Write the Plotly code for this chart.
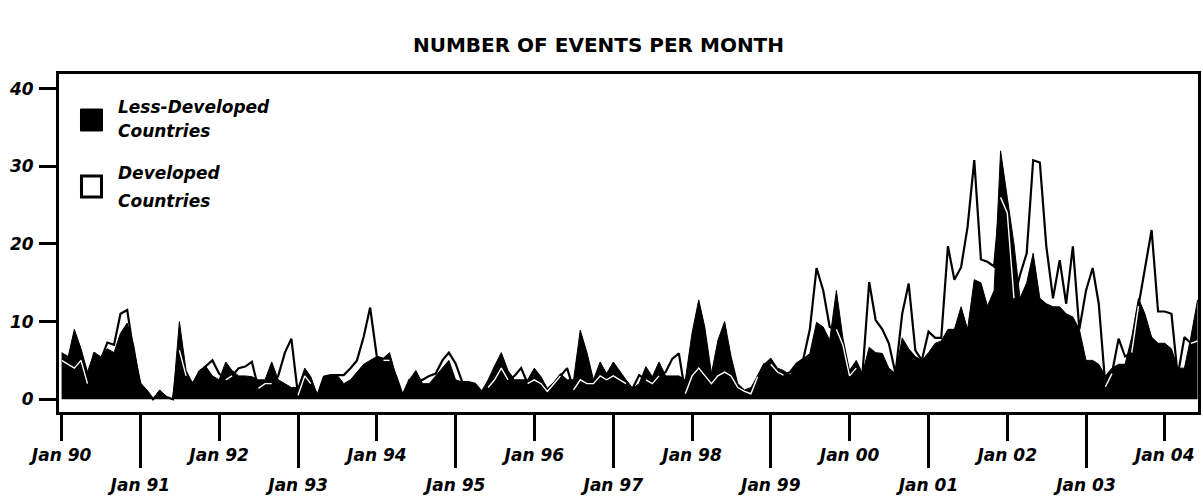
import pandas as pd
import plotly.graph_objects as go

# ---- data (monthly, Jan 1990 .. Jun 2004) ----
start_month = "1990-01-01"
ldc = [
    6, 5.5, 9, 6.5, 3.5, 6, 5.5, 6.5, 6, 8.5, 9.8, 7,
    2, 1.2, 0, 1.2, 0.3, 0, 10, 3.7, 2, 3.7, 4.2, 3,
    2.5, 4.8, 3.7, 3, 3, 2.9, 2.5, 2.5, 4.8, 2.5, 2, 1.5,
    1.5, 4, 2.9, 0.5, 2.9, 3.1, 3.1, 2, 2.5, 3.5, 4.5, 5,
    5.5, 5.3, 6, 2.9, 0.5, 2.5, 3.7, 2, 2, 3, 4, 5,
    2.5, 2.2, 2.2, 2, 1, 2.5, 4.3, 6, 3.7, 2.5, 2.5, 2.5,
    4, 2.9, 1.4, 2.2, 3.3, 2.5, 2.5, 8.9, 6, 2.5, 4.8, 3.3,
    4.8, 3.5, 2.5, 1.4, 2, 4.2, 2.9, 4.8, 3, 3, 3, 2.5,
    8.5, 12.8, 9.3, 3.3, 7.6, 10, 5.5, 2, 1.2, 1.5, 3, 4.5,
    5.3, 4, 3.7, 3.1, 4.6, 5.2, 5.9, 9.9, 9.3, 7.6, 14, 7.9,
    3.7, 5, 3.3, 6.7, 6, 5.9, 4, 3.3, 7.9, 6.5, 5.5, 5,
    6, 7.2, 7.5, 9, 9, 11.9, 9, 15.4, 15, 12, 14, 32,
    26, 20, 13, 15, 18.8, 13, 12.3, 11.9, 11.9, 11, 10.6, 9,
    5, 5, 4.5, 3, 4, 4.5, 4.5, 8, 13, 11, 8, 7.2,
    7.2, 6.5, 4, 4, 8, 12.8,
]
developed = [
    5, 4.5, 4, 5, 2, 6, 5, 7.3, 7, 11, 11.5, 6,
    2, 1, 0, 1, 0.3, 0, 6.3, 3, 2, 3.5, 4.2, 5,
    3.3, 2.5, 3, 4, 4.2, 4.8, 1.4, 2, 2, 3, 6, 7.8,
    0.5, 3, 2, 0.5, 2.9, 3.1, 3.1, 3.1, 4, 5, 8, 11.8,
    5.5, 5, 5, 2.9, 0.5, 2.5, 2.5, 2.5, 3, 3.3, 5, 6,
    4.6, 2.2, 2.2, 2, 1, 1.5, 2.5, 4, 2.5, 3, 4, 2,
    2.5, 2, 1, 2, 3, 4, 1.2, 2.5, 2, 2, 3, 2.5,
    3, 2.5, 2, 1.4, 3.1, 2.5, 2, 3, 3.5, 5.2, 5.9, 0.7,
    3, 4, 3, 2, 3, 3.5, 3, 1.5, 1, 0.7, 2.9, 4.5,
    4.5, 3.5, 3.1, 3.5, 4.6, 5.2, 9, 16.9, 14, 9.3, 9, 7,
    3, 4, 3.3, 15.1, 10.2, 9, 7.2, 3.3, 11, 14.9, 6.3, 5,
    8.7, 7.9, 7.9, 19.7, 15.4, 17, 22.2, 30.8, 18, 17.7, 17.1, 26,
    24, 13, 16, 18.8, 30.8, 30.5, 19.7, 13, 17.9, 12.3, 19.7, 9,
    14, 16.9, 12.3, 1.6, 3.3, 7.8, 5.5, 6, 12, 17, 21.8, 11.3,
    11.3, 11, 3, 8, 7.2, 7.5,
]
even_year_ticks = ["1990-01-01", "1992-01-01", "1994-01-01", "1996-01-01",
                   "1998-01-01", "2000-01-01", "2002-01-01", "2004-01-01"]
even_year_labels = ["Jan 90", "Jan 92", "Jan 94", "Jan 96",
                    "Jan 98", "Jan 00", "Jan 02", "Jan 04"]
odd_year_ticks = ["1991-01-01", "1993-01-01", "1995-01-01", "1997-01-01",
                  "1999-01-01", "2001-01-01", "2003-01-01"]
odd_year_labels = ["Jan 91", "Jan 93", "Jan 95", "Jan 97",
                   "Jan 99", "Jan 01", "Jan 03"]
y_ticks = [0, 10, 20, 30, 40]
series_names = ["Less-Developed", "Developed"]

months = pd.date_range(start_month, periods=len(ldc), freq="MS")
# developed line shown in white where it runs inside the black area
dev_inside = [d if d < l else None for d, l in zip(developed, ldc)]

FONT = "DejaVu Sans"
x_range = ["1989-12-20", "2004-06-03"]

# plot area in page pixels
PL, PR, PT, PB = 58.5, 1198, 74, 412

fig = go.Figure()
fig.add_trace(go.Scatter(x=months, y=ldc, mode="lines", fill="tozeroy",
                         fillcolor="black", line=dict(color="black", width=1),
                         name=series_names[0] + " Countries", showlegend=False))
fig.add_trace(go.Scatter(x=months, y=developed, mode="lines",
                         line=dict(color="black", width=2.2),
                         name=series_names[1] + " Countries", showlegend=False))
fig.add_trace(go.Scatter(x=months, y=dev_inside, mode="lines",
                         line=dict(color="white", width=1.4),
                         connectgaps=False, hoverinfo="skip", showlegend=False))
# dummy trace so that the second (odd-year) x axis is drawn
fig.add_trace(go.Scatter(x=[months[0]], y=[None], xaxis="x2", yaxis="y",
                         showlegend=False, hoverinfo="skip"))

tickfont = dict(family=FONT, size=17, color="black", weight="bold", style="italic")

fig.update_layout(
    width=1203, height=498,
    margin=dict(l=PL, r=1203 - PR, t=PT, b=498 - PB, autoexpand=False),
    paper_bgcolor="white", plot_bgcolor="white",
    title=dict(text="NUMBER OF EVENTS PER MONTH", x=0.4975, xref="container",
               xanchor="center", y=1 - 45 / 498, yref="container", yanchor="middle",
               font=dict(family=FONT, size=20, color="black", weight="bold")),
    xaxis=dict(type="date", range=x_range, tickmode="array",
               tickvals=even_year_ticks, ticktext=even_year_labels,
               ticks="outside", ticklen=26, tickwidth=3, tickcolor="black",
               showline=True, mirror=True, linewidth=3, linecolor="black",
               showgrid=False, zeroline=False, tickfont=tickfont),
    xaxis2=dict(type="date", range=x_range, overlaying="x", side="bottom",
                anchor="y", tickmode="array",
                tickvals=odd_year_ticks, ticktext=odd_year_labels,
                ticks="outside", ticklen=55, tickwidth=3, tickcolor="black",
                ticklabelstandoff=3,
                showline=False, showgrid=False, zeroline=False, tickfont=tickfont),
    yaxis=dict(range=[-1.65, 41.9], tickmode="array", tickvals=y_ticks,
               ticks="outside", ticklen=17, tickwidth=3, tickcolor="black",
               ticklabelstandoff=2,
               showline=True, mirror=True, linewidth=3, linecolor="black",
               showgrid=False, zeroline=False, tickfont=tickfont),
)


# legend drawn as swatches + text
def px_x(px):
    return (px - PL) / (PR - PL)


def px_y(py):
    return (PB - py) / (PB - PT)


fig.add_shape(type="rect", xref="paper", yref="paper",
              x0=px_x(80), x1=px_x(102), y0=px_y(131), y1=px_y(109),
              fillcolor="black", line=dict(color="black", width=1))
fig.add_shape(type="rect", xref="paper", yref="paper",
              x0=px_x(81), x1=px_x(101), y0=px_y(197), y1=px_y(176),
              fillcolor="white", line=dict(color="black", width=3))
legfont = dict(family=FONT, size=17, color="black", weight="bold", style="italic")
for text, py in [(series_names[0], 107), ("Countries", 131),
                 (series_names[1], 173), ("Countries", 201)]:
    fig.add_annotation(text=text, xref="paper", yref="paper", x=px_x(116), y=px_y(py),
                       xanchor="left", yanchor="middle", showarrow=False, font=legfont)

fig.write_html("out.html", config={"displayModeBar": False},
               post_script="document.body.style.margin='0px';")
